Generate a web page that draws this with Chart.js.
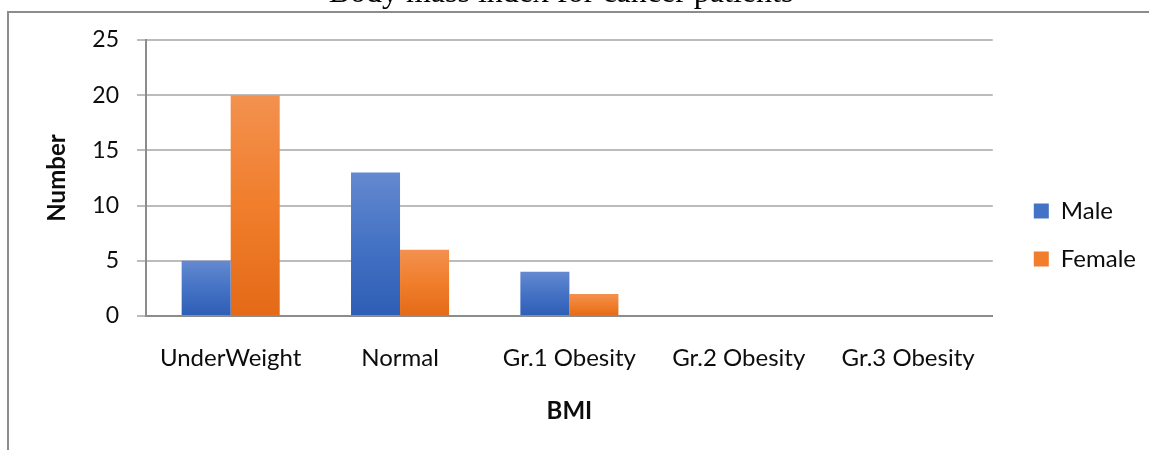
<!DOCTYPE html>
<html>
<head>
<meta charset="utf-8">
<script src="https://cdn.jsdelivr.net/npm/chart.js@4"></script>
<style>
  html, body { margin: 0; padding: 0; background: #ffffff; overflow: hidden; }
  #wrap { position: relative; width: 1149px; height: 450px; overflow: hidden; }
  #bmiChart { display: block; }
  /* outer chart frame (its right and bottom edges run past the page) */
  #frame {
    position: absolute; left: 7px; top: 11px; width: 1200px; height: 500px;
    border-left: 2px solid #8c8c8c; border-top: 2px solid #8c8c8c;
    pointer-events: none;
  }
</style>
</head>
<body>
<div id="wrap">
  <canvas id="bmiChart" width="1149" height="450"></canvas>
  <div id="frame"></div>
</div>
<script>
// BMI groups and patient counts per sex
const categories = ['UnderWeight', 'Normal', 'Gr.1 Obesity', 'Gr.2 Obesity', 'Gr.3 Obesity'];
const maleCounts = [5, 13, 4, 0, 0];
const femaleCounts = [20, 6, 2, 0, 0];
const seriesNames = ['Male', 'Female'];

// value axis: 0 to 25 in steps of 5
const yMin = 0;
const yMax = 25;
const yStep = 5;

const chartTitle = 'Body mass index for cancer patients';
const xTitle = 'BMI';
const yTitle = 'Number';

// light-to-dark vertical fills (top, middle, bottom)
const maleShades = ['#6489d0', '#4472c4', '#2e5db6'];
const femaleShades = ['#f3914f', '#f07e2c', '#e46a17'];

const gridColor = '#bcbcbc';
const axisColor = '#8c8c8c';
const textColor = '#0d0d0d';

// each bar gets its own gradient running from its top down to the baseline
function barFill(shades) {
  return (ctx) => {
    const chart = ctx.chart;
    if (!chart.chartArea || ctx.raw === undefined || !chart.scales.y) return shades[1];
    const y = chart.scales.y;
    const top = y.getPixelForValue(ctx.raw);
    const base = y.getPixelForValue(0);
    if (base - top < 1) return shades[1];
    const g = chart.ctx.createLinearGradient(0, top, 0, base);
    g.addColorStop(0, shades[0]);
    g.addColorStop(0.5, shades[1]);
    g.addColorStop(1, shades[2]);
    return g;
  };
}

function draw() {
  Chart.defaults.font.family = 'Lato';
  Chart.defaults.color = textColor;

  new Chart(document.getElementById('bmiChart'), {
    type: 'bar',
    data: {
      labels: categories,
      datasets: [
        {
          label: seriesNames[0],
          data: maleCounts,
          backgroundColor: barFill(maleShades),
          legendColor: maleShades[1],
          borderWidth: 0,
          categoryPercentage: 0.579,
          barPercentage: 1.0
        },
        {
          label: seriesNames[1],
          data: femaleCounts,
          backgroundColor: barFill(femaleShades),
          legendColor: femaleShades[1],
          borderWidth: 0,
          categoryPercentage: 0.579,
          barPercentage: 1.0
        }
      ]
    },
    options: {
      responsive: false,
      animation: false,
      devicePixelRatio: 1,
      layout: { padding: { top: 20, left: -24, right: 3, bottom: 0 } },
      plugins: {
        title: {
          display: true,
          text: chartTitle,
          color: '#000000',
          font: { family: '"Liberation Serif", "Times New Roman", serif', size: 32, weight: 'normal' },
          padding: { top: -46, bottom: 27.6 }
        },
        legend: {
          position: 'right',
          labels: {
            boxWidth: 15,
            boxHeight: 15,
            padding: 24,
            color: textColor,
            font: { size: 24 },
            generateLabels(chart) {
              const items = Chart.defaults.plugins.legend.labels.generateLabels(chart);
              items.forEach((it) => {
                const ds = chart.data.datasets[it.datasetIndex];
                it.fillStyle = ds.legendColor;
                it.strokeStyle = ds.legendColor;
                it.lineWidth = 0;
              });
              return items;
            }
          }
        },
        tooltip: { enabled: false }
      },
      scales: {
        x: {
          grid: { display: false, drawTicks: false },
          border: { display: true, color: axisColor, width: 2 },
          ticks: { padding: 28, font: { size: 24 }, color: textColor, maxRotation: 0, autoSkip: false },
          title: {
            display: true,
            text: xTitle,
            font: { size: 24, weight: 'bold' },
            color: textColor,
            padding: { top: 0, bottom: 24 }
          },
          afterFit(scale) { scale.height = 134; }
        },
        y: {
          min: yMin,
          max: yMax,
          grid: {
            color: (c) => (c.tick && c.tick.value === 0 ? axisColor : gridColor),
            lineWidth: 2,
            tickColor: gridColor,
            tickLength: 9,
            drawTicks: true
          },
          border: { display: true, color: axisColor, width: 2 },
          ticks: { stepSize: yStep, padding: 18, font: { size: 23 }, color: textColor },
          title: {
            display: true,
            text: yTitle,
            font: { size: 24, weight: 'bold' },
            color: textColor,
            padding: { top: 67, bottom: 0 }
          },
          afterFit(scale) { scale.width = 170; }
        },
        // empty strip that keeps the legend clear of the plot
        gap: {
          type: 'linear',
          position: 'right',
          display: true,
          grid: { display: false, drawTicks: false },
          border: { display: false },
          ticks: { display: false },
          afterFit(scale) { scale.width = 17; }
        }
      }
    }
  });
}

if (document.fonts && document.fonts.load) {
  Promise.all([
    document.fonts.load('24px Lato'),
    document.fonts.load('bold 24px Lato'),
    document.fonts.load('32px "Liberation Serif"')
  ]).then(draw, draw);
} else {
  draw();
}
</script>
</body>
</html>
